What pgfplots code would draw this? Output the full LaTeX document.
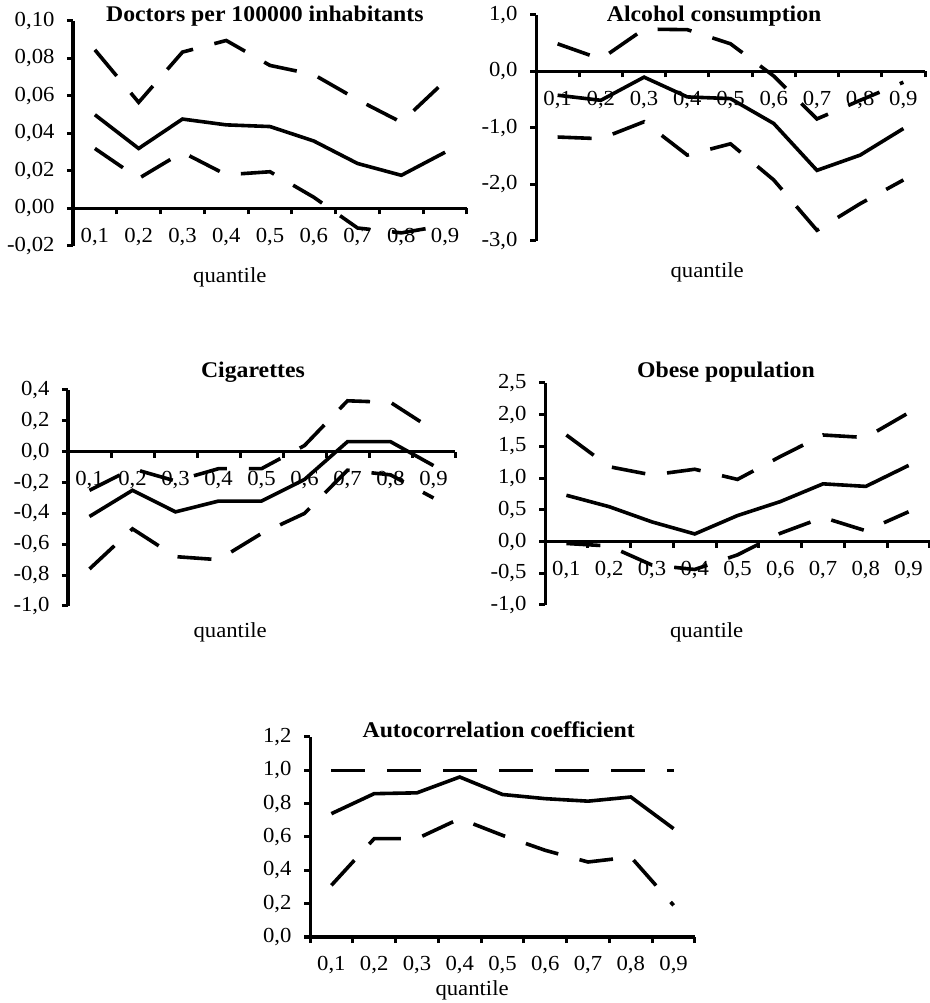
\documentclass[border=0pt]{standalone}
\usepackage{pgfplots}
\pgfplotsset{compat=1.18}
\usepackage{fontspec}
\setmainfont{Liberation Serif}[FakeStretch=1.06]
\pgfplotsset{
 panel/.style={
  scale only axis, clip=false,
  axis x line=middle, axis y line=left,
  axis line style={-, line width=3bp, black},
  xmin=0.5, xmax=9.5,
  xtick={1,...,9},
  xticklabels={{0,1},{0,2},{0,3},{0,4},{0,5},{0,6},{0,7},{0,8},{0,9}},
  minor xtick={0.5,1.5,2.5,3.5,4.5,5.5,6.5,7.5,8.5,9.5},
  major x tick style={draw=none},
  minor x tick style={line width=3bp, black},
  y tick style={line width=3bp, black},
  tick align=outside,
  major tick length=6bp, minor tick length=6bp,
  ticklabel style={font=\fontsize{21.5}{26}\selectfont},
  xticklabel style={yshift=-10bp},
  yticklabel style={xshift=-9bp},
  /pgf/number format/assume math mode=true,
  yticklabel style={/pgf/number format/.cd, fixed, fixed zerofill, use comma},
  scaled y ticks=false,
  every axis title shift=0pt,
  title style={font=\bfseries\fontsize{22.5}{27}\selectfont, anchor=center},
  xlabel style={font=\fontsize{21.5}{26}\selectfont, anchor=center},
  xlabel=quantile,
 },
 est/.style={black, line width=3.6bp, solid},
 ci/.style={black, line width=3.6bp, dash pattern=on 34bp off 22bp},
}
\begin{document}
\begin{tikzpicture}
\useasboundingbox (0,0) rectangle (930bp,1003bp);
% Panel 1
\begin{axis}[panel, width=394bp, height=225bp, at={(73bp,757bp)}, anchor=south west,
  ymin=-0.02, ymax=0.10, ytick={-0.02,0,0.02,0.04,0.06,0.08,0.10},
  yticklabel style={/pgf/number format/precision=2},
  title={Doctors per 100000 inhabitants},
  title style={at={(axis description cs:0.487,1.022)}},
  xlabel style={at={(axis description cs:0.398,-0.138)}}]
\addplot[est] coordinates {(1,0.050) (2,0.032) (3,0.0477) (4,0.0446) (5,0.0437) (6,0.036) (7,0.024) (8,0.0177) (9,0.030)};
\addplot[ci] coordinates {(1,0.0846) (2,0.0566) (3,0.0834) (4,0.0896) (5,0.0763) (6,0.0714) (7,0.058) (8,0.046) (9,0.068)};
\addplot[ci] coordinates {(1,0.032) (2,0.016) (3,0.030) (4,0.018) (5,0.0196) (6,0.006) (7,-0.0104) (8,-0.013) (9,-0.009)};
\end{axis}
% Panel 2
\begin{axis}[panel, width=389bp, height=226bp, at={(536bp,762bp)}, anchor=south west,
  ymin=-3, ymax=1, ytick={-3,-2,-1,0,1},
  yticklabel style={/pgf/number format/precision=1},
  title={Alcohol consumption},
  title style={at={(axis description cs:0.458,0.996)}},
  xlabel style={at={(axis description cs:0.44,-0.137)}}]
\addplot[est] coordinates {(1,-0.42) (2,-0.51) (3,-0.10) (4,-0.45) (5,-0.48) (6,-0.92) (7,-1.75) (8,-1.48) (9,-1.01)};
\addplot[ci] coordinates {(1,0.49) (2,0.22) (3,0.75) (4,0.74) (5,0.49) (6,-0.08) (7,-0.84) (8,-0.51) (9,-0.19)};
\addplot[ci] coordinates {(1,-1.16) (2,-1.19) (3,-0.89) (4,-1.48) (5,-1.28) (6,-1.92) (7,-2.81) (8,-2.34) (9,-1.92)};
\end{axis}
% Panel 3
\begin{axis}[panel, width=387bp, height=216bp, at={(68bp,397bp)}, anchor=south west,
  ymin=-1, ymax=0.4, ytick={-1,-0.8,-0.6,-0.4,-0.2,0,0.2,0.4},
  yticklabel style={/pgf/number format/precision=1},
  title={Cigarettes},
  title style={at={(axis description cs:0.478,1.083)}},
  xlabel style={at={(axis description cs:0.419,-0.12)}}]
\addplot[est] coordinates {(1,-0.42) (2,-0.25) (3,-0.39) (4,-0.32) (5,-0.32) (6,-0.18) (7,0.065) (8,0.065) (9,-0.09)};
\addplot[ci] coordinates {(1,-0.25) (2,-0.11) (3,-0.19) (4,-0.11) (5,-0.11) (6,0.04) (7,0.33) (8,0.32) (9,0.14)};
\addplot[ci] coordinates {(1,-0.76) (2,-0.50) (3,-0.68) (4,-0.70) (5,-0.53) (6,-0.40) (7,-0.12) (8,-0.15) (9,-0.30)};
\end{axis}
% Panel 4
\begin{axis}[panel, width=385bp, height=222bp, at={(545bp,398bp)}, anchor=south west,
  ymin=-1, ymax=2.5, ytick={-1,-0.5,0,0.5,1,1.5,2,2.5},
  yticklabel style={/pgf/number format/precision=1},
  title={Obese population},
  title style={at={(axis description cs:0.47,1.05)}},
  xlabel style={at={(axis description cs:0.42,-0.122)}}]
\addplot[est] coordinates {(1,0.73) (2,0.55) (3,0.31) (4,0.12) (5,0.41) (6,0.63) (7,0.91) (8,0.87) (9,1.20)};
\addplot[ci] coordinates {(1,1.68) (2,1.18) (3,1.05) (4,1.14) (5,0.98) (6,1.34) (7,1.68) (8,1.64) (9,2.03)};
\addplot[ci] coordinates {(1,-0.03) (2,-0.07) (3,-0.37) (4,-0.44) (5,-0.21) (6,0.13) (7,0.38) (8,0.17) (9,0.47)};
\end{axis}
% Panel 5
\begin{axis}[panel, width=385bp, height=200bp, at={(310bp,66bp)}, anchor=south west,
  ymin=0, ymax=1.2, ytick={0,0.2,0.4,0.6,0.8,1.0,1.2},
  yticklabel style={/pgf/number format/precision=1},
  title={Autocorrelation coefficient},
  title style={at={(axis description cs:0.49,1.035)}},
  xlabel style={at={(axis description cs:0.421,-0.265)}}]
\addplot[est] coordinates {(1,0.74) (2,0.86) (3,0.865) (4,0.96) (5,0.855) (6,0.83) (7,0.815) (8,0.84) (9,0.65)};
\addplot[ci] coordinates {(1,1) (2,1) (3,1) (4,1) (5,1) (6,1) (7,1) (8,1) (9,1)};
\addplot[ci] coordinates {(1,0.31) (2,0.59) (3,0.59) (4,0.71) (5,0.61) (6,0.52) (7,0.45) (8,0.48) (9,0.19)};
\end{axis}
\end{tikzpicture}
\end{document}
